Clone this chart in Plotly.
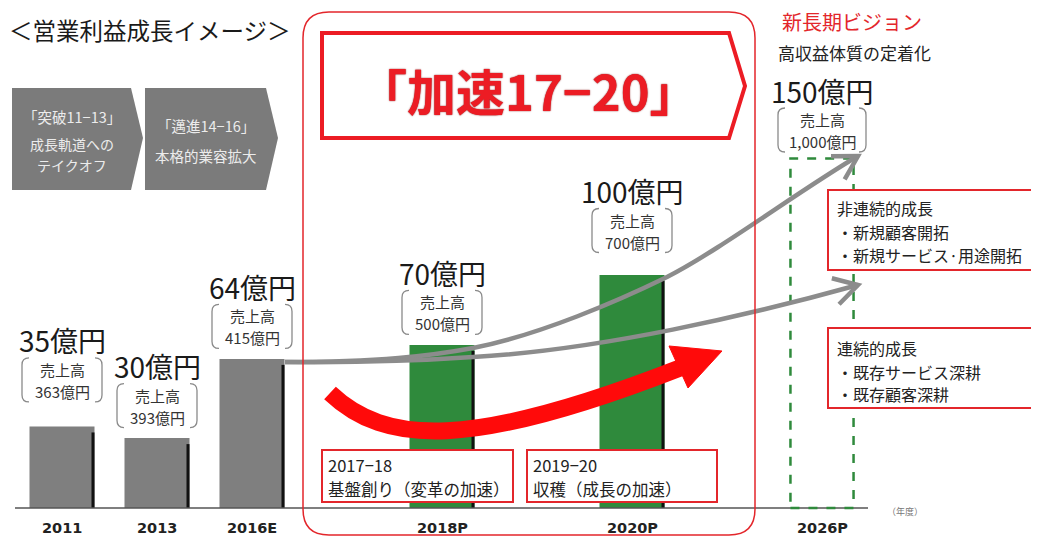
import math
import plotly.graph_objects as go

W, H = 1039, 537          # browser window
OFF = 8                   # default page margin of the html body
FW, FH = W - OFF, H - OFF # figure size so the page fits in the window
FONT = "Noto Sans CJK JP"

# ---------------- data ----------------
years = ["2011", "2013", "2016E", "2018P", "2020P", "2026P"]
xpos = [0, 1, 2, 4, 6, 8]
profit = [35, 30, 64, 70, 100, 150]          # 営業利益（億円）
sales = ["363億円", "393億円", "415億円", "500億円", "700億円", "1,000億円"]
profit_labels = [f"{v}億円" for v in profit]

phase_titles = ["「突破11−13」", "「邁進14−16」"]
phase_texts = [["成長軌道への", "テイクオフ"], ["本格的業容拡大"]]
box_bottom = [["2017−18", "基盤創り（変革の加速）"], ["2019−20", "収穫（成長の加速）"]]
box_right = [["非連続的成長", "・新規顧客開拓", "・新規サービス·用途開拓"],
             ["連続的成長", "・既存サービス深耕", "・既存顧客深耕"]]

# ---------------- styles ----------------
GRAY_BAR = "#7f7f7f"
GREEN = "#2f8a3c"
RED = "#e3262b"
bar_colors = [GRAY_BAR, GRAY_BAR, GRAY_BAR, GREEN, GREEN, "rgba(0,0,0,0)"]
label_lift = [14, 0, 0, 0, 12, -4]   # px, extra lift of the labels above each bar

# axis mapping (pixel layout of the picture, in window pixels)
X0PX, XSC = 62, 95.0      # px of x=0, px per unit
Y0PX, YSC = 508, 2.33     # px of y=0, px per unit
BW = 65 / XSC

xr = [(OFF - X0PX) / XSC, (W - X0PX) / XSC]
yr = [(Y0PX - H) / YSC, (Y0PX - OFF) / YSC]


def P(x, y):
    return f"{(x - OFF) / FW:.5f},{1 - (y - OFF) / FH:.5f}"


def PX(x):
    return (x - OFF) / FW


def PY(y):
    return 1 - (y - OFF) / FH


def poly(pts, close=True):
    s = "M " + P(*pts[0]) + "".join(" L " + P(*p) for p in pts[1:])
    return s + (" Z" if close else "")


def rrect(x0, y0, x1, y1, r):
    return ("M " + P(x0 + r, y0) + " L " + P(x1 - r, y0) + " Q " + P(x1, y0) + " " + P(x1, y0 + r) +
            " L " + P(x1, y1 - r) + " Q " + P(x1, y1) + " " + P(x1 - r, y1) +
            " L " + P(x0 + r, y1) + " Q " + P(x0, y1) + " " + P(x0, y1 - r) +
            " L " + P(x0, y0 + r) + " Q " + P(x0, y0) + " " + P(x0 + r, y0) + " Z")


def wings(tip, ctrl, length, ang):
    dx, dy = ctrl[0] - tip[0], ctrl[1] - tip[1]
    n = math.hypot(dx, dy)
    dx, dy = dx / n, dy / n
    out = []
    for a in (ang, -ang):
        ca, sa = math.cos(math.radians(a)), math.sin(math.radians(a))
        out.append((tip[0] + length * (dx * ca - dy * sa), tip[1] + length * (dx * sa + dy * ca)))
    return out


shapes = []
ann = []


def text(x, y, t, size, color="#222", anchor="center", bold=False, family=FONT, **kw):
    ann.append(dict(xref="paper", yref="paper", x=PX(x), y=PY(y), text=f"<b>{t}</b>" if bold else t,
                    showarrow=False, xanchor=anchor, yanchor="middle", borderpad=0,
                    font=dict(family=family, size=size, color=color, **kw)))


fig = go.Figure()

# bars
fig.add_trace(go.Bar(x=xpos, y=profit, width=BW, marker=dict(color=bar_colors, line=dict(width=0)),
                     hoverinfo="skip"))
# dark right edges of solid bars
ex, ey = [], []
for p, v, c in zip(xpos, profit, bar_colors):
    if c.startswith("rgba"):
        continue
    xe = p + BW / 2 - 1.5 / XSC
    ex += [xe, xe, None]
    ey += [0, v - 6 / YSC, None]
fig.add_trace(go.Scatter(x=ex, y=ey, mode="lines", line=dict(color="#111", width=3), hoverinfo="skip"))

# baseline
shapes.append(dict(type="line", xref="paper", yref="y", x0=PX(15), x1=PX(868), y0=0, y1=0,
                   line=dict(color="#555", width=1.5)))

# dashed outline of 2026P target bar
for p, v, c in zip(xpos, profit, bar_colors):
    if c.startswith("rgba"):
        shapes.append(dict(type="rect", xref="x", yref="y", x0=p - BW / 2 + 0.01, x1=p + BW / 2 - 0.01,
                           y0=0, y1=v, line=dict(color=GREEN, width=2.5, dash="dash")))

# value labels and sales brackets
for p, v, lab, s, lift in zip(xpos, profit, profit_labels, sales, label_lift):
    ann.append(dict(x=p, y=v, xref="x", yref="y", text=lab, showarrow=False, yshift=72 + lift,
                    xanchor="center", yanchor="middle", font=dict(family=FONT, size=28, color="#1a1a1a")))
    ann.append(dict(x=p, y=v, xref="x", yref="y", text="売上高", showarrow=False, yshift=43 + lift,
                    xanchor="center", yanchor="middle", font=dict(family=FONT, size=15, color="#333")))
    ann.append(dict(x=p, y=v, xref="x", yref="y", text=s, showarrow=False, yshift=21 + lift,
                    xanchor="center", yanchor="middle", font=dict(family=FONT, size=15, color="#333")))
    hw = 30 + 2 * len(s)
    cy, hh, r = 32.5 + lift, 22, 7
    left = (f"M {-hw + r},{cy + hh} Q {-hw},{cy + hh} {-hw},{cy + hh - r} L {-hw},{cy - hh + r} "
            f"Q {-hw},{cy - hh} {-hw + r},{cy - hh}")
    right = (f"M {hw - r},{cy + hh} Q {hw},{cy + hh} {hw},{cy + hh - r} L {hw},{cy - hh + r} "
             f"Q {hw},{cy - hh} {hw - r},{cy - hh}")
    for pth in (left, right):
        shapes.append(dict(type="path", xref="x", yref="y", xsizemode="pixel", ysizemode="pixel",
                           xanchor=p, yanchor=v, path=pth, line=dict(color="#8a8a8a", width=1.3)))

# year labels
for p, yl in zip(xpos, years):
    ann.append(dict(x=p, y=0, xref="x", yref="y", text=f"<b>{yl}</b>", showarrow=False, yshift=-20,
                    xanchor="center", yanchor="middle", borderpad=0,
                    font=dict(family="DejaVu Sans", size=14.5, color="#222")))
text(905, 511, "（年度）", 9, color="#777")

# gray growth arrows
GA = "#8c8c8c"
up_path = ("M " + P(285, 362) + " C " + P(380, 362) + " " + P(430, 356) + " " + P(473, 348) +
           " C " + P(540, 335) + " " + P(620, 300) + " " + P(667, 277) +
           " C " + P(720, 250) + " " + P(800, 190) + " " + P(858, 156))
lo_path = ("M " + P(285, 362) + " C " + P(380, 363) + " " + P(430, 360) + " " + P(473, 357) +
           " C " + P(600, 350) + " " + P(750, 315) + " " + P(858, 285))
for pth in (up_path, lo_path):
    shapes.append(dict(type="path", xref="paper", yref="paper", path=pth, line=dict(color=GA, width=4.5)))
for tip, ctrl in (((858, 156), (800, 190)), ((858, 285), (750, 315))):
    w1, w2 = wings(tip, ctrl, 27, 30)
    shapes.append(dict(type="path", xref="paper", yref="paper", path=poly([w1, tip, w2], close=False),
                       line=dict(color=GA, width=4.5)))

# red acceleration arrow
shapes.append(dict(type="path", xref="paper", yref="paper",
                   path="M " + P(330, 393) + " C " + P(385, 445) + " " + P(470, 450) + " " + P(680, 368),
                   line=dict(color="#ff0a0a", width=17)))
shapes.append(dict(type="path", xref="paper", yref="paper", path=poly([(669, 346), (722, 351), (688, 388)]),
                   fillcolor="#ff0a0a", line=dict(color="#ff0a0a", width=1)))

# gray phase chevrons
shapes.append(dict(type="path", xref="paper", yref="paper",
                   path=poly([(12, 88), (131, 88), (143, 138), (131, 190), (12, 190)]),
                   fillcolor="#7b7b7b", line=dict(width=0)))
shapes.append(dict(type="path", xref="paper", yref="paper",
                   path=poly([(145, 88), (266, 88), (278, 138), (266, 190), (145, 190)]),
                   fillcolor="#7b7b7b", line=dict(width=0)))
text(72, 117, phase_titles[0], 14.5, color="#ececec")
text(72, 144, phase_texts[0][0], 14, color="#ececec")
text(72, 165, phase_texts[0][1], 14, color="#ececec")
text(206, 125, phase_titles[1], 14.5, color="#ececec")
text(206, 155, phase_texts[1][0], 14.5, color="#ececec")

# title
text(8, 30, "＜営業利益成長イメージ＞", 23.5, color="#1a1a1a", anchor="left")

# red frame + banner
shapes.append(dict(type="path", xref="paper", yref="paper", path=rrect(303, 12, 755, 535, 26),
                   line=dict(color=RED, width=1.5)))
shapes.append(dict(type="path", xref="paper", yref="paper",
                   path=poly([(322, 33), (729, 33), (745, 86), (729, 138), (322, 138)]),
                   fillcolor="white", line=dict(color="#ec1c24", width=4)))
ann.append(dict(xref="paper", yref="paper", x=PX(528), y=PY(89), text="<b>「加速17−20」</b>",
                showarrow=False, xanchor="center", yanchor="middle",
                font=dict(family=FONT, size=49, color="#ec1c24", shadow="0px 0px 1.5px #7a0000")))

# long-term vision heading
text(781, 21, "新長期ビジョン", 20, color=RED, anchor="left")
text(777, 52, "高収益体質の定着化", 17, color="#222", anchor="left")

# red text boxes
for (x0, y0, x1, y1), lines, tx, ys, fs in (
        ((322, 450, 513, 502), box_bottom[0], 327, [465, 489], 16.5),
        ((527, 450, 717, 502), box_bottom[1], 532, [465, 489], 16.5),
        ((828, 190, 1050, 270), box_right[0], 836, [208, 232, 255], 16),
        ((828, 328, 1050, 408), box_right[1], 836, [348, 372, 394], 16)):
    shapes.append(dict(type="rect", xref="paper", yref="paper", x0=PX(x0), x1=PX(x1),
                       y0=PY(y1), y1=PY(y0), fillcolor="white", line=dict(color=RED, width=2)))
    for t, yy in zip(lines, ys):
        text(tx, yy, t, fs, color="#222", anchor="left")

fig.update_layout(
    width=FW, height=FH, margin=dict(l=0, r=0, t=0, b=0),
    paper_bgcolor="white", plot_bgcolor="white", showlegend=False,
    xaxis=dict(range=xr, visible=False, fixedrange=True),
    yaxis=dict(range=yr, visible=False, fixedrange=True),
    shapes=shapes, annotations=ann,
)
fig.write_html("out.html")
